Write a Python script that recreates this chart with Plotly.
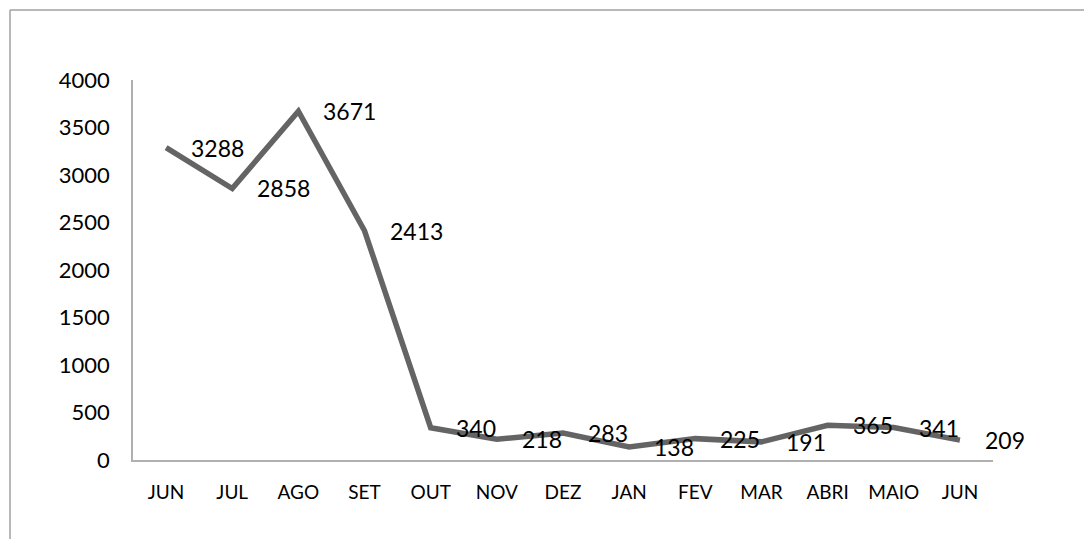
import plotly.graph_objects as go

months = ["JUN", "JUL", "AGO", "SET", "OUT", "NOV", "DEZ", "JAN", "FEV", "MAR", "ABRI", "MAIO", "JUN"]
values = [3288, 2858, 3671, 2413, 340, 218, 283, 138, 225, 191, 365, 341, 209]
y_ticks = [0, 500, 1000, 1500, 2000, 2500, 3000, 3500, 4000]

xs = list(range(len(months)))
FONT = "Lato"

fig = go.Figure()
fig.add_trace(go.Scatter(
    x=xs, y=values, mode="lines",
    line=dict(color="#646464", width=5.5),
    hoverinfo="skip", showlegend=False,
))

for xi, v in zip(xs, values):
    fig.add_annotation(x=xi, y=v, text=str(v), showarrow=False,
                       xanchor="left", yanchor="middle", xshift=23,
                       font=dict(family=FONT, size=23, color="#000000"))

# page body has an 8px margin; compensate so plot area sits at x 133-993, y 80-460 on the page
OFF = 8
W, H = 1092 - OFF, 539 - OFF
L, T = 133 - OFF, 80 - OFF
pw, ph = 860, 380
R, B = W - L - pw, H - T - ph

def px(xp):
    return (xp - OFF - L) / pw

def py(yp):
    return (T + ph - (yp - OFF)) / ph

# outer chart frame (extends past the visible page on right and bottom)
fig.add_shape(type="line", xref="paper", yref="paper",
              x0=px(10), x1=px(1300), y0=py(10), y1=py(10),
              line=dict(color="#a0a0a0", width=1.5))
fig.add_shape(type="line", xref="paper", yref="paper",
              x0=px(10), x1=px(10), y0=py(10), y1=py(800),
              line=dict(color="#a0a0a0", width=1.5))

fig.update_layout(
    width=W, height=H,
    margin=dict(l=L, r=R, t=T, b=B),
    paper_bgcolor="white", plot_bgcolor="white",
    font=dict(family=FONT, color="#000000"),
    xaxis=dict(
        range=[-0.5, len(months) - 0.5],
        tickmode="array", tickvals=xs, ticktext=months,
        showgrid=False, zeroline=False,
        showline=True, linecolor="#b0b0b0", linewidth=1.5,
        ticks="", tickfont=dict(family=FONT, size=19),
        ticklabelstandoff=14,
        fixedrange=True,
    ),
    yaxis=dict(
        range=[0, 4000],
        tickmode="array", tickvals=y_ticks, ticktext=[str(t) for t in y_ticks],
        showgrid=False, zeroline=False,
        showline=True, linecolor="#b0b0b0", linewidth=1.5,
        ticks="", tickfont=dict(family=FONT, size=22),
        ticklabelstandoff=17,
        fixedrange=True,
    ),
)

fig.write_html("out.html")
